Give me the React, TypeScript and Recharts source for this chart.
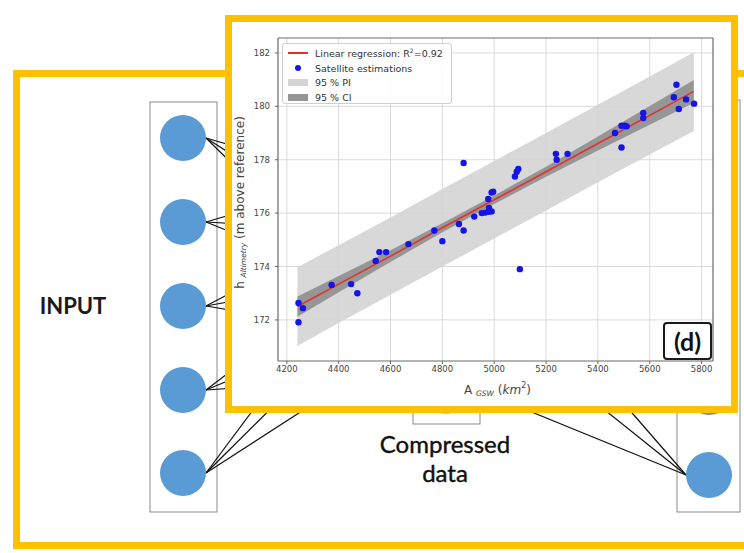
import {
  Area,
  CartesianGrid,
  ComposedChart,
  Legend,
  Line,
  ReferenceLine,
  Scatter,
  XAxis,
  YAxis,
} from "recharts";

// axis ticks
const xTicks = [4200, 4400, 4600, 4800, 5000, 5200, 5400, 5600, 5800];
const yTicks = [172, 174, 176, 178, 180, 182];

// satellite estimations (A_GSW km², h m)
const satX = [
  4245, 4245, 4262, 4373, 4448, 4472, 4543, 4557, 4583, 4669, 4769, 4800, 4864,
  4882, 4882, 4923, 4952, 4965, 4978, 4990, 4980, 4977, 4990, 4996, 5080, 5087,
  5093, 5099, 5238, 5241, 5283, 5466, 5491, 5504, 5511, 5491, 5575, 5575, 5693,
  5703, 5712, 5740, 5771,
];
const satY = [
  172.63, 171.91, 172.44, 173.31, 173.34, 173.0, 174.21, 174.54, 174.54, 174.84,
  175.35, 174.95, 175.59, 175.35, 177.88, 175.87, 176.0, 176.02, 176.05, 176.06,
  176.19, 176.53, 176.77, 176.8, 177.37, 177.55, 177.65, 173.9, 178.22, 178.0,
  178.22, 179.0, 179.27, 179.27, 179.25, 178.46, 179.75, 179.56, 180.34, 180.81,
  179.9, 180.26, 180.1,
];

// regression line and bands, read at a few x positions
const bandX = [4241, 4400, 4600, 4800, 5000, 5200, 5400, 5600, 5770];
const fitY = [172.5, 173.34, 174.39, 175.45, 176.5, 177.55, 178.61, 179.66, 180.56];
const ciLow = [172.12, 173.04, 174.17, 175.28, 176.34, 177.36, 178.35, 179.31, 180.13];
const ciHigh = [172.88, 173.64, 174.61, 175.62, 176.66, 177.74, 178.87, 180.01, 180.99];
const piLow = [171.02, 171.88, 172.94, 174.0, 175.05, 176.1, 177.16, 178.2, 179.08];
const piHigh = [173.97, 174.8, 175.84, 176.9, 177.95, 179.0, 180.06, 181.12, 182.03];

const X_MIN = 4166;
const X_MAX = 5844;
const Y_MIN = 170.46;
const Y_MAX = 182.56;

const bandRows = bandX.map((x, i) => ({
  x,
  fit: fitY[i],
  pi: [piLow[i], piHigh[i]],
  ci: [ciLow[i], ciHigh[i]],
}));
const satRows = satX.map((x, i) => ({ x, y: satY[i] }));

// background network diagram
const leftNodesY = [138, 222, 306, 390, 473];
const rightNodesY = [140, 224, 308, 392, 475];
const hiddenY = [180, 230, 280, 330, 380];
const leftLinks = [
  [0, 1, 2],
  [0, 1, 2],
  [1, 2, 3],
  [2, 3, 4],
  [2, 3, 4],
];
const rightLinkEnds = [
  [380, 350],
  [505, 330],
  [560, 330],
];

const YELLOW = "#FFC000";
const NODE = "#5B9BD5";
const AXIS_FONT = "DejaVu Sans, sans-serif";

function Diagram() {
  return (
    <svg width={744} height={553} style={{ position: "absolute", left: 0, top: 0 }}>
      <rect x={0} y={0} width={744} height={553} fill="#fff" />
      <rect x={16.5} y={73.5} width={800} height={472} fill="none" stroke={YELLOW} strokeWidth={7} />
      <rect x={150} y={102} width={67} height={410} fill="none" stroke="#8a8a8a" strokeWidth={1} />
      <rect x={413} y={330} width={67} height={94} fill="none" stroke="#8a8a8a" strokeWidth={1} />
      <rect x={677} y={100} width={63} height={412} fill="none" stroke="#8a8a8a" strokeWidth={1} />
      {leftNodesY.map((cy, i) =>
        leftLinks[i].map((h) => (
          <line key={`l${i}-${h}`} x1={206} y1={cy} x2={350} y2={hiddenY[h]} stroke="#111" strokeWidth={1.2} />
        ))
      )}
      {rightLinkEnds.map(([x, y], i) => (
        <line key={`r${i}`} x1={686} y1={475} x2={x} y2={y} stroke="#111" strokeWidth={1.2} />
      ))}
      {leftNodesY.map((cy) => (
        <circle key={`ln${cy}`} cx={183} cy={cy} r={23} fill={NODE} />
      ))}
      {rightNodesY.map((cy) => (
        <circle key={`rn${cy}`} cx={709} cy={cy} r={23} fill={NODE} />
      ))}
      <circle cx={446} cy={392} r={22} fill="#ED7D31" fillOpacity={0.6} />
      <text x={73} y={314} textAnchor="middle" fontFamily="Lato, sans-serif" fontWeight="bold" fontSize={22} fill="#1a1a1a">
        INPUT
      </text>
      <text x={445} y={453} textAnchor="middle" fontFamily="Lato, sans-serif" fontSize={24} fill="#111" stroke="#111" strokeWidth={0.4}>
        Compressed
      </text>
      <text x={445} y={482} textAnchor="middle" fontFamily="Lato, sans-serif" fontSize={24} fill="#111" stroke="#111" strokeWidth={0.4}>
        data
      </text>
    </svg>
  );
}

function LegendBox() {
  const row = { display: "flex", alignItems: "center", height: 14.7 } as const;
  const icon = { width: 20, marginLeft: 5, marginRight: 7, display: "flex", justifyContent: "center" } as const;
  return (
    <div
      style={{
        width: 170,
        height: 61,
        boxSizing: "border-box",
        border: "1px solid #cfcfcf",
        borderRadius: 3,
        background: "rgba(255,255,255,0.85)",
        fontFamily: AXIS_FONT,
        fontSize: 9.5,
        color: "#333",
        paddingTop: 2,
      }}
    >
      <div style={row}>
        <span style={icon}>
          <span style={{ width: 20, height: 2, background: "#e3322b" }} />
        </span>
        <span>
          Linear regression: R<sup style={{ fontSize: 6 }}>2</sup>=0.92
        </span>
      </div>
      <div style={row}>
        <span style={icon}>
          <span style={{ width: 6, height: 6, borderRadius: 3, background: "#1414e6" }} />
        </span>
        <span>Satellite estimations</span>
      </div>
      <div style={row}>
        <span style={icon}>
          <span style={{ width: 20, height: 7, background: "#d4d4d4" }} />
        </span>
        <span>95 % PI</span>
      </div>
      <div style={row}>
        <span style={icon}>
          <span style={{ width: 20, height: 7, background: "#959595" }} />
        </span>
        <span>95 % CI</span>
      </div>
    </div>
  );
}

// eslint-disable-next-line @typescript-eslint/no-explicit-any
function YLabel(props: any) {
  const vb = props.viewBox;
  const cx = vb.x - 8;
  const cy = vb.y + vb.height / 2 + 3;
  return (
    <text
      x={cx}
      y={cy}
      transform={`rotate(-90 ${cx} ${cy})`}
      textAnchor="middle"
      dominantBaseline="central"
      fontFamily={AXIS_FONT}
      fontSize={12}
      fill="#444"
    >
      <tspan>h </tspan>
      <tspan fontSize={7.5} fontStyle="italic" dy={3}>
        Altimetry
      </tspan>
      <tspan dy={-3}> (m above reference)</tspan>
    </text>
  );
}

// eslint-disable-next-line @typescript-eslint/no-explicit-any
function XLabel(props: any) {
  const vb = props.viewBox;
  const cx = vb.x + vb.width / 2 + 2;
  const cy = vb.y + 29;
  return (
    <text x={cx} y={cy} textAnchor="middle" dominantBaseline="central" fontFamily={AXIS_FONT} fontSize={12} fill="#444">
      <tspan>A </tspan>
      <tspan fontSize={7.5} fontStyle="italic" dy={3}>
        GSW
      </tspan>
      <tspan dy={-3}> (</tspan>
      <tspan fontStyle="italic">km</tspan>
      <tspan fontSize={8} dy={-5}>
        2
      </tspan>
      <tspan dy={5}>)</tspan>
    </text>
  );
}

// eslint-disable-next-line @typescript-eslint/no-explicit-any
const dotShape = (p: any) => <circle cx={p.cx} cy={p.cy} r={3.2} fill="#1414e6" />;

export default function App() {
  return (
    <div
      style={{
        position: "fixed",
        left: 0,
        top: 0,
        width: 744,
        height: 553,
        overflow: "hidden",
        background: "#fff",
      }}
    >
      <Diagram />
      <div
        style={{
          position: "absolute",
          left: 225,
          top: 15,
          width: 513,
          height: 398,
          boxSizing: "border-box",
          border: `7px solid ${YELLOW}`,
          background: "#fff",
        }}
      >
        <ComposedChart
          width={499}
          height={384}
          data={bandRows}
          margin={{ top: 16, right: 18, left: 16, bottom: 25 }}
        >
          <CartesianGrid stroke="#dadada" strokeWidth={1} horizontalValues={yTicks} verticalValues={xTicks} />
          <XAxis
            type="number"
            dataKey="x"
            domain={[X_MIN, X_MAX]}
            ticks={xTicks}
            allowDataOverflow
            height={20}
            tickSize={3}
            tickMargin={2}
            tick={{ fill: "#444", fontSize: 8.5, fontFamily: AXIS_FONT }}
            tickLine={{ stroke: "#666" }}
            axisLine={{ stroke: "#6a6a6a", strokeWidth: 1.2 }}
            label={<XLabel />}
          />
          <YAxis
            type="number"
            domain={[Y_MIN, Y_MAX]}
            ticks={yTicks}
            allowDataOverflow
            width={30}
            tickSize={3}
            tickMargin={5}
            tick={{ fill: "#444", fontSize: 8.5, fontFamily: AXIS_FONT }}
            tickLine={{ stroke: "#666" }}
            axisLine={{ stroke: "#6a6a6a", strokeWidth: 1.2 }}
            label={<YLabel />}
          />
          <Area
            dataKey="pi"
            type="linear"
            stroke="none"
            fill="#d4d4d4"
            fillOpacity={0.9}
            dot={false}
            activeDot={false}
            isAnimationActive={false}
          />
          <Area
            dataKey="ci"
            type="linear"
            stroke="none"
            fill="#8f8f8f"
            fillOpacity={0.9}
            dot={false}
            activeDot={false}
            isAnimationActive={false}
          />
          <Line
            dataKey="fit"
            type="linear"
            stroke="#e3322b"
            strokeWidth={1.6}
            dot={false}
            activeDot={false}
            isAnimationActive={false}
          />
          <Scatter data={satRows} dataKey="y" shape={dotShape} isAnimationActive={false} />
          <ReferenceLine y={Y_MAX} stroke="#6a6a6a" strokeWidth={1.2} />
          <ReferenceLine x={X_MAX} stroke="#6a6a6a" strokeWidth={1.2} />
          <Legend
            layout="vertical"
            align="center"
            verticalAlign="middle"
            wrapperStyle={{ left: 50, top: 21, width: 170, height: 61 }}
            content={() => <LegendBox />}
          />
        </ComposedChart>
        <div
          style={{
            position: "absolute",
            left: 431,
            top: 300,
            width: 49,
            height: 38,
            boxSizing: "border-box",
            border: "2px solid #1a1a1a",
            borderRadius: 4,
            background: "#fff",
            fontFamily: "Lato, sans-serif",
            fontWeight: "bold",
            fontSize: 25,
            color: "#111",
            display: "flex",
            alignItems: "center",
            justifyContent: "center",
          }}
        >
          (d)
        </div>
      </div>
    </div>
  );
}
